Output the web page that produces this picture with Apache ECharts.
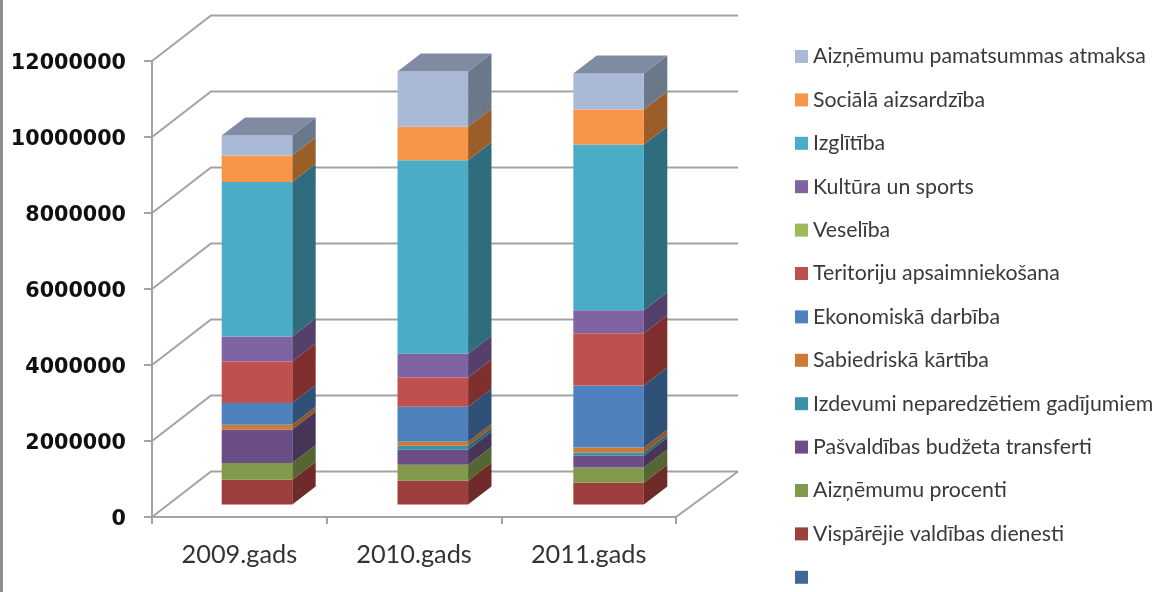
<!DOCTYPE html>
<html>
<head>
<meta charset="utf-8">
<style>html,body{margin:0;padding:0;background:#fff}#c{width:1163px;height:592px}</style>
<script src="https://cdn.jsdelivr.net/npm/echarts@6/dist/echarts.min.js"></script>
</head>
<body>
<div id="c"></div>
<script>
const categories = ['2009.gads', '2010.gads', '2011.gads'];
const yTicks = [0, 2000000, 4000000, 6000000, 8000000, 10000000, 12000000];

// stack order, bottom to top
const blankSeries   = [0, 0, 0];
const visparejie    = [650000, 623000, 570000];
const aiznemumuProc = [440000, 421000, 403000];
const transferti    = [885000, 395000, 307000];
const neparedzetie  = [0, 105000, 88000];
const sabiedriska   = [124000, 105000, 132000];
const ekonomiska    = [571000, 921000, 1632000];
const teritoriju    = [1095000, 772000, 1377000];
const veseliba      = [0, 0, 0];
const kultura       = [658000, 623000, 605000];
const izglitiba     = [4063000, 5097000, 4360000];
const sociala       = [700000, 877000, 921000];
const pamatsummas   = [526000, 1456000, 947000];

const stack = [
  {name: ' ', values: blankSeries, front: '#3F6797', side: '#2A4566'},
  {name: 'Vispārējie valdības dienesti', values: visparejie, front: '#9C3F3D', side: '#6E2B2A'},
  {name: 'Aizņēmumu procenti', values: aiznemumuProc, front: '#81994A', side: '#556633'},
  {name: 'Pašvaldības budžeta transferti', values: transferti, front: '#6B4E87', side: '#473558'},
  {name: 'Izdevumi neparedzētiem gadījumiem', values: neparedzetie, front: '#3B91A8', side: '#2A6675'},
  {name: 'Sabiedriskā kārtība', values: sabiedriska, front: '#CC7A34', side: '#915725'},
  {name: 'Ekonomiskā darbība', values: ekonomiska, front: '#4E81BD', side: '#2F5178'},
  {name: 'Teritoriju apsaimniekošana', values: teritoriju, front: '#C0504D', side: '#7F302E'},
  {name: 'Veselība', values: veseliba, front: '#9BBB59', side: '#677C3B'},
  {name: 'Kultūra un sports', values: kultura, front: '#8064A2', side: '#553F6B'},
  {name: 'Izglītība', values: izglitiba, front: '#4BACC6', side: '#2F6D7E'},
  {name: 'Sociālā aizsardzība', values: sociala, front: '#F79646', side: '#9C5E29'},
  {name: 'Aizņēmumu pamatsummas atmaksa', values: pamatsummas, front: '#AAB9D6', side: '#6B788A', top: '#7F8BA3'}
];

const AXIS = '#A3A3A3';
const BAR_DX = 18.8, BAR_SPREAD = 1.15, BAR_DY = -12.5, SIDE_DX = 23.4, SIDE_DY = -18, WIDTH_RATIO = 0.404;

function wallItem(params, api) {
  const v = api.value(1);
  const band = api.size([1, 0])[0];
  const a = api.coord([0, v]), b = api.coord([categories.length - 1, v]);
  const l = a[0] - band / 2, r = b[0] + band / 2, y = a[1];
  const st = {stroke: AXIS, lineWidth: 2, fill: null};
  const children = [{type: 'polyline', shape: {points: [[l, y], [l + 59, y - 45.5], [r + 62, y - 45.5]]}, style: st}];
  if (v === 0) children.push({type: 'line', shape: {x1: r, y1: y, x2: r + 62, y2: y - 45.5}, style: {stroke: AXIS, lineWidth: 2}});
  return {type: 'group', children};
}

function barItem(s) {
  return function (params, api) {
    const val = api.value(1);
    if (!val) return {type: 'group', children: []};
    const cat = api.value(0), base = api.value(2);
    const band = api.size([1, 0])[0], w = band * WIDTH_RATIO;
    const p0 = api.coord([cat, base]), p1 = api.coord([cat, base + val]);
    const xl = p0[0] + BAR_DX + (cat - 1) * BAR_SPREAD - w / 2, xr = xl + w;
    const yb = p0[1] + BAR_DY, yt = p1[1] + BAR_DY;
    const children = [
      {type: 'polygon', shape: {points: [[xr, yb], [xr + SIDE_DX, yb + SIDE_DY], [xr + SIDE_DX, yt + SIDE_DY], [xr, yt]]}, style: {fill: s.side}},
      {type: 'rect', shape: {x: xl, y: yt, width: w, height: yb - yt}, style: {fill: s.front}}
    ];
    if (s.top) children.push({type: 'polygon', shape: {points: [[xl, yt], [xl + SIDE_DX, yt + SIDE_DY], [xr + SIDE_DX, yt + SIDE_DY], [xr, yt]]}, style: {fill: s.top}});
    return {type: 'group', children};
  };
}

const running = categories.map(() => 0);
const barSeries = stack.map(s => {
  const data = s.values.map((v, i) => {
    const row = [i, v, running[i]];
    running[i] += v;
    return row;
  });
  return {
    name: s.name, type: 'custom', coordinateSystem: 'cartesian2d', clip: false, silent: true, z: 5,
    itemStyle: {color: s.front}, renderItem: barItem(s), data, encode: {x: 0, y: 1}
  };
});

const chart = echarts.init(document.getElementById('c'), null, {renderer: 'canvas'});
chart.setOption({
  animation: false,
  backgroundColor: '#fff',
  graphic: [{type: 'rect', shape: {x: 0, y: 0, width: 3, height: 592}, style: {fill: '#8E8E8E'}}],
  grid: {left: 152, top: 61, width: 524, height: 456, containLabel: false},
  legend: {
    orient: 'vertical', left: 795, top: 46, height: 580, padding: 0, icon: 'rect', itemWidth: 13, itemHeight: 13, itemGap: 22.4,
    textStyle: {fontFamily: 'Lato', fontSize: 21.3, color: '#3A3A3A', lineHeight: 20},
    selectedMode: false,
    data: stack.map(s => s.name).reverse()
  },
  xAxis: {
    type: 'category', data: categories,
    axisLine: {lineStyle: {color: AXIS, width: 2}},
    axisTick: {show: true, length: 7, lineStyle: {color: AXIS, width: 2}},
    axisLabel: {fontFamily: 'Lato', fontSize: 25.3, color: '#333', margin: 25},
    splitLine: {show: false}
  },
  yAxis: {
    type: 'value', min: yTicks[0], max: yTicks[yTicks.length - 1], interval: 2000000,
    axisLine: {show: true, lineStyle: {color: AXIS, width: 2}},
    axisTick: {show: true, length: 8, lineStyle: {color: AXIS, width: 2}},
    axisLabel: {
      margin: 26, formatter: v => '{n|' + v + '}',
      rich: {n: {fontFamily: 'DejaVu Sans', fontWeight: 'bold', fontSize: 20.7, color: '#111', padding: [5, 0, 0, 0]}}
    },
    splitLine: {show: false}
  },
  series: [{
    name: 'walls', type: 'custom', coordinateSystem: 'cartesian2d', clip: false, silent: true, z: 1,
    renderItem: wallItem, data: yTicks.map(t => [0, t]), encode: {x: 0, y: 1}
  }].concat(barSeries)
});
</script>
</body>
</html>
